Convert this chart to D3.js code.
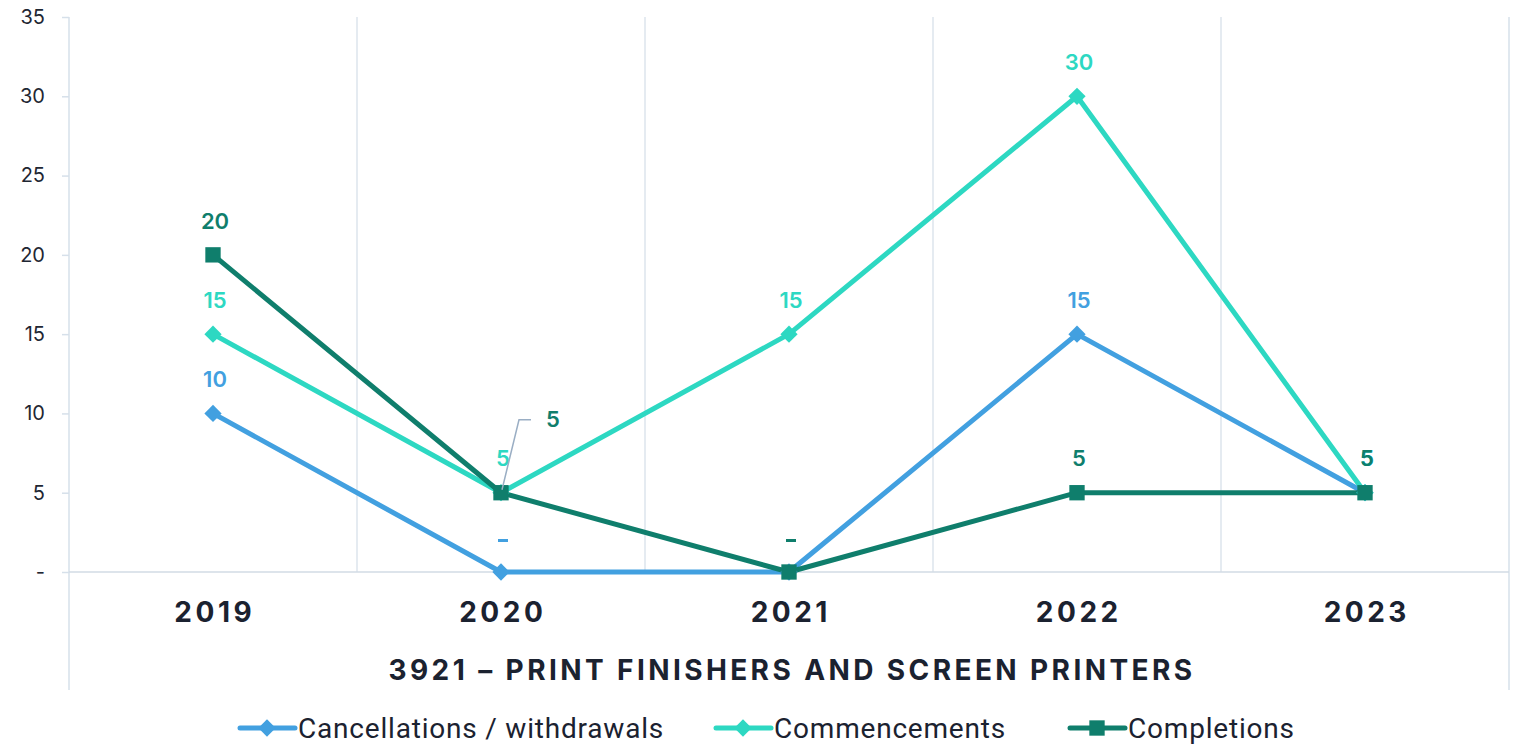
<!DOCTYPE html>
<html>
<head>
<meta charset="utf-8">
<script src="https://cdn.jsdelivr.net/npm/d3@7/dist/d3.min.js"></script>
<style>
  html, body { margin: 0; padding: 0; background: #ffffff; }
  svg { display: block; }
  text { font-family: "Inter", "Noto Sans", sans-serif; }
</style>
</head>
<body>
<svg id="chart" width="1514" height="744"></svg>
<script>
// Chart data
const years = ["2019", "2020", "2021", "2022", "2023"];
const cancellations = [10, 0, 0, 15, 5];
const commencements = [15, 5, 15, 30, 5];
const completions = [20, 5, 0, 5, 5];
const yTicks = [0, 5, 10, 15, 20, 25, 30, 35];
const chartTitle = "3921 – PRINT FINISHERS AND SCREEN PRINTERS";

const series = [
  { name: "Cancellations / withdrawals", values: cancellations, color: "#42a0e0", marker: "diamond" },
  { name: "Commencements", values: commencements, color: "#2dd8c2", marker: "diamond" },
  { name: "Completions", values: completions, color: "#0f7e6c", marker: "square" }
];

const svg = d3.select("#chart");
const plot = { left: 69, right: 1509, top: 17, bottom: 572 };

const x = d3.scaleBand().domain(years).range([plot.left, plot.right]).padding(0);
const y = d3.scaleLinear().domain([0, 35]).range([plot.bottom, plot.top]);
const cx = d => x(d) + x.bandwidth() / 2;
const fmt = v => v === 0 ? "-" : String(v);

// Vertical gridlines between categories
svg.append("g").selectAll("line")
  .data(years.slice(1))
  .join("line")
  .attr("x1", d => x(d)).attr("x2", d => x(d))
  .attr("y1", plot.top).attr("y2", plot.bottom)
  .attr("stroke", "#dde4ec").attr("stroke-width", 1.5);

// Outer category dividers extend through the label rows
[plot.left, plot.right].forEach(px => {
  svg.append("line")
    .attr("x1", px).attr("x2", px)
    .attr("y1", plot.top).attr("y2", 690)
    .attr("stroke", "#d6e0ea").attr("stroke-width", 1.5);
});

// Y axis ticks and labels
const yAxis = d3.axisLeft(y).tickValues(yTicks).tickSize(7).tickPadding(17).tickFormat(fmt);
const gy = svg.append("g").attr("transform", `translate(${plot.left},0)`).call(yAxis);
gy.select(".domain").remove();
gy.selectAll(".tick line").attr("stroke", "#d6e0ea").attr("stroke-width", 1.5);
gy.selectAll(".tick text")
  .attr("fill", "#1f2733").style("font-size", "20px")
  .style("font-family", "Inter, 'Noto Sans', sans-serif");

// Category axis line
svg.append("line")
  .attr("x1", plot.left).attr("x2", plot.right)
  .attr("y1", y(0)).attr("y2", y(0))
  .attr("stroke", "#d2dbe5").attr("stroke-width", 1.5);

// Category labels
const xAxis = d3.axisBottom(x).tickSize(0).tickPadding(0);
const gx = svg.append("g").attr("transform", `translate(0,${plot.bottom})`).call(xAxis);
gx.select(".domain").remove();
gx.selectAll(".tick text")
  .attr("y", 50)
  .attr("dy", 0)
  .attr("dx", "1.75px")
  .attr("fill", "#1b2230")
  .style("font-size", "28px").style("font-weight", "700")
  .style("letter-spacing", "3.5px")
  .style("font-family", "Inter, 'Noto Sans', sans-serif");

// Axis title
svg.append("text")
  .attr("x", (plot.left + plot.right) / 2 + 3)
  .attr("y", 680)
  .attr("text-anchor", "middle")
  .attr("fill", "#1b2230")
  .style("font-size", "28px").style("font-weight", "700")
  .style("letter-spacing", "3.4px")
  .text(chartTitle);

// Lines
const line = d3.line().x((d, i) => cx(years[i])).y(d => y(d));
series.forEach(s => {
  svg.append("path")
    .datum(s.values)
    .attr("d", line)
    .attr("fill", "none")
    .attr("stroke", s.color)
    .attr("stroke-width", 5)
    .attr("stroke-linejoin", "round");
});

// Markers
const diamond = d3.symbol().type(d3.symbolDiamond2).size(190);
const square = d3.symbol().type(d3.symbolSquare2).size(300);
function drawMarker(g, s, px, py) {
  g.append("path")
    .attr("d", s.marker === "square" ? square() : diamond())
    .attr("transform", `translate(${px},${py})`)
    .attr("fill", s.color);
}
series.forEach(s => {
  const g = svg.append("g");
  s.values.forEach((v, i) => drawMarker(g, s, cx(years[i]), y(v)));
});

// Data labels (the 2020 Completions label is offset with a leader line)
const labelOffset = 34;
series.forEach(s => {
  const g = svg.append("g");
  s.values.forEach((v, i) => {
    let lx = cx(years[i]) + 2;
    let ly = y(v) - labelOffset;
    if (s.name === "Completions" && years[i] === "2020") {
      lx = cx(years[i]) + 52;
      ly = y(v) - 73;
      svg.append("polyline")
        .attr("points", [[cx(years[i]) + 30, ly], [cx(years[i]) + 18, ly], [cx(years[i]) + 1, y(v) - 3]].map(p => p.join(",")).join(" "))
        .attr("fill", "none").attr("stroke", "#9aaec4").attr("stroke-width", 1.5);
    }
    if (v === 0) {
      g.append("rect")
        .attr("x", lx - 5).attr("y", y(v) - 33)
        .attr("width", 10).attr("height", 3)
        .attr("fill", s.color);
    } else {
      g.append("text")
        .attr("x", lx).attr("y", ly)
        .attr("dy", "0.35em")
        .attr("text-anchor", "middle")
        .attr("fill", s.color)
        .style("font-size", "22px").style("font-weight", "600")
        .text(fmt(v));
    }
  });
});

// Legend
const legendItems = [
  { s: series[0], x: 240 },
  { s: series[1], x: 716 },
  { s: series[2], x: 1070 }
];
const lg = svg.append("g");
legendItems.forEach(item => {
  const ly = 728;
  lg.append("line")
    .attr("x1", item.x).attr("x2", item.x + 55)
    .attr("y1", ly).attr("y2", ly)
    .attr("stroke", item.s.color).attr("stroke-width", 5).attr("stroke-linecap", "round");
  drawMarker(lg, item.s, item.x + 27, ly);
  lg.append("text")
    .attr("x", item.x + 58).attr("y", ly)
    .attr("dy", "0.35em")
    .attr("fill", "#1b2230")
    .style("font-size", "28px")
    .style("letter-spacing", "0.8px")
    .style("font-family", "Roboto, sans-serif")
    .text(item.s.name);
});
</script>
</body>
</html>
